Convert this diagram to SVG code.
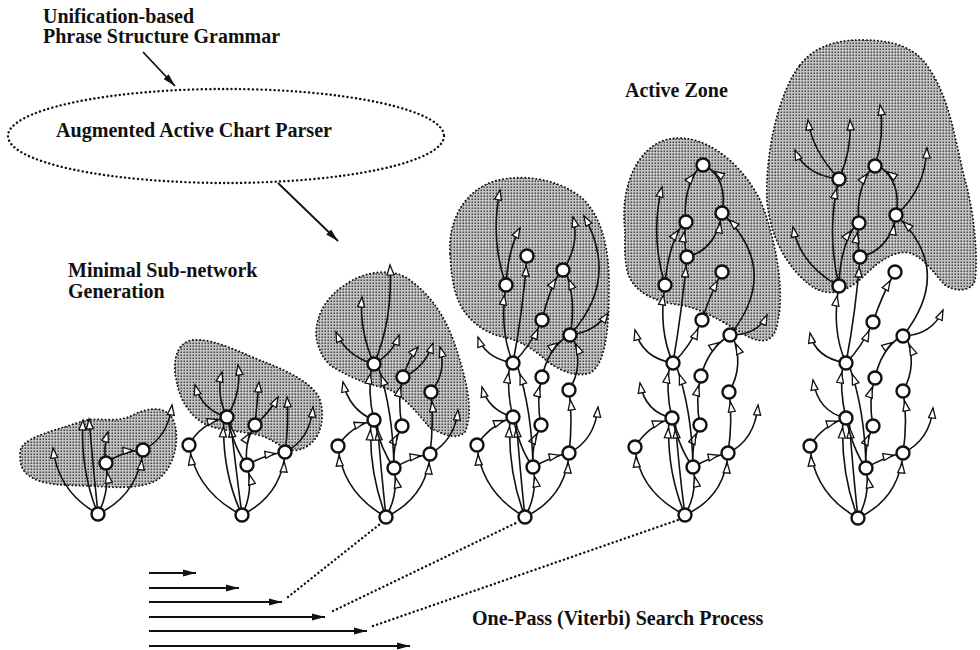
<svg xmlns="http://www.w3.org/2000/svg" width="980" height="650" viewBox="0 0 980 650">
<style>
.t{font-family:"Liberation Serif","Times New Roman",serif;font-weight:bold;font-size:20px;fill:#111}
.e{fill:none;stroke:#111;stroke-width:1.6}
.n{marker-end:url(#an)}
.p{marker-end:url(#at)}
.nd{fill:#fff;stroke:#111;stroke-width:2.4}
.blob{fill:url(#stip);stroke:#111;stroke-width:1.9;stroke-dasharray:0.1 3.6;stroke-linecap:round}
.dot{fill:none;stroke:#111;stroke-width:2.4;stroke-dasharray:0.1 4.2;stroke-linecap:round}
.ar{fill:none;stroke:#111;stroke-width:1.8;marker-end:url(#af)}
</style>
<defs>
<pattern id="stip" width="3" height="3" patternUnits="userSpaceOnUse">
<rect width="3" height="3" fill="#c4c4c4"/>
<rect x="0.5" y="0.5" width="1.5" height="1.5" fill="#444"/>
</pattern>
<marker id="an" viewBox="0 0 24 9" refX="21" refY="4.5" markerWidth="24" markerHeight="9" markerUnits="userSpaceOnUse" orient="auto"><path d="M1,1 L11,4.5 L1,8 Z" fill="#fff" stroke="#111" stroke-width="1.3"/></marker>
<marker id="at" viewBox="0 0 24 9" refX="11" refY="4.5" markerWidth="24" markerHeight="9" markerUnits="userSpaceOnUse" orient="auto"><path d="M1,1 L11,4.5 L1,8 Z" fill="#fff" stroke="#111" stroke-width="1.3"/></marker>
<marker id="af" viewBox="0 0 14 8" refX="13" refY="4" markerWidth="14" markerHeight="8" markerUnits="userSpaceOnUse" orient="auto"><path d="M0,0.5 L13,4 L0,7.5 Z" fill="#111"/></marker>
</defs>

<g id="labels">
<text class="t" x="43" y="23">Unification-based</text>
<text class="t" x="43" y="43" textLength="237" lengthAdjust="spacingAndGlyphs">Phrase Structure Grammar</text>
<text class="t" x="68" y="277">Minimal Sub-network</text>
<text class="t" x="68" y="298">Generation</text>
<text class="t" x="625" y="97">Active Zone</text>
<text class="t" x="472" y="625">One-Pass (Viterbi) Search Process</text>
</g>

<g id="parser">
<ellipse class="dot" cx="226" cy="136" rx="218" ry="47"/>
<text class="t" x="56" y="137" textLength="276" lengthAdjust="spacingAndGlyphs">Augmented Active Chart Parser</text>
</g>

<g id="blobs">
<path class="blob" d="M20,453 C20,438 50,432 83,421 C100,416 115,425 135,414 C150,407 170,405 175,425 C180,445 172,470 157,480 C140,490 110,487 93,486 C65,485 40,486 27,474 C20,468 20,460 20,453 Z"/>
<path class="blob" d="M177,383 C172,365 175,342 193,340 C215,338 245,355 267,363 C290,372 315,385 320,400 C326,420 320,445 298,450 C285,452 275,440 262,436 C240,430 220,432 203,423 C190,415 180,400 177,383 Z"/>
<path class="blob" d="M320,350 C310,330 320,300 345,285 C365,270 395,268 410,280 C430,295 445,315 455,345 C465,375 475,410 465,432 C455,442 440,432 430,428 C415,410 400,392 385,388 C365,384 345,375 330,365 C325,360 322,356 320,350 Z"/>
<path class="blob" d="M450,253 C448,220 465,190 495,181 C525,173 560,180 582,198 C600,215 610,245 609,290 C609,330 605,365 590,373 C575,378 560,370 548,362 C535,350 520,340 503,337 C485,333 465,320 457,297 C452,283 451,268 450,253 Z"/>
<path class="blob" d="M625,230 C620,190 635,150 665,140 C700,130 740,160 760,200 C775,235 785,290 778,320 C775,345 760,345 740,332 C720,320 700,308 680,305 C655,302 632,292 627,270 C624,255 625,245 625,230 Z"/>
<path class="blob" d="M800,65 C815,45 840,40 860,40 C890,40 915,45 930,70 C950,100 955,140 965,180 C975,215 978,260 975,280 C972,292 955,292 945,285 C935,275 925,258 910,253 C895,250 880,260 865,275 C850,290 830,300 810,285 C790,270 770,240 767,200 C765,150 780,90 800,65 Z"/>
</g>

<g id="connectors">
<path class="ar" d="M143,52 L175,86"/>
<path class="ar" d="M278,183 L338,241"/>
<path class="ar" d="M149,573 L196,573"/>
<path class="ar" d="M149,588 L239,588"/>
<path class="ar" d="M149,602 L282,602"/>
<path class="ar" d="M149,617 L325,617"/>
<path class="ar" d="M149,631 L367,631"/>
<path class="ar" d="M149,646 L410,646"/>
<path class="dot" d="M288,597 L380,524"/>
<path class="dot" d="M333,611 L518,522"/>
<path class="dot" d="M373,626 L678,520"/>

<!-- graph 1 -->
<path class="e n" d="M98,514 Q110,492 106,463"/>
<path class="e n" d="M98,514 Q138,495 143,450"/>
<path class="e n" d="M106,463 Q122,451 143,450"/>
<path class="e p" d="M98,514 Q58,492 53,448"/>
<path class="e p" d="M98,514 Q80,470 83,420"/>
<path class="e p" d="M98,514 Q93,465 89,419"/>
<path class="e p" d="M106,463 Q103,448 108,432"/>
<path class="e p" d="M143,450 Q168,438 172,405"/>

<!-- graph 2 -->
<path class="e n" d="M242,515 Q196,492 189,445"/>
<path class="e n" d="M242,515 Q221,470 224,417"/>
<path class="e n" d="M242,515 Q236,470 230,417"/>
<path class="e n" d="M242,515 Q254,492 247,465"/>
<path class="e n" d="M242,515 Q282,495 285,452"/>
<path class="e n" d="M189,445 Q200,424 227,417"/>
<path class="e" d="M227,417 Q234,448 247,465"/>
<path class="e n" d="M247,465 Q264,455 285,452"/>
<path class="e n" d="M247,465 Q244,442 255,425"/>
<path class="e p" d="M227,417 Q202,410 195,385"/>
<path class="e p" d="M227,417 Q216,395 222,372"/>
<path class="e p" d="M227,417 Q242,392 238,365"/>
<path class="e p" d="M255,425 Q257,405 259,382"/>
<path class="e p" d="M255,425 Q270,412 278,397"/>
<path class="e p" d="M285,452 Q289,425 287,397"/>
<path class="e p" d="M285,452 Q310,440 313,407"/>

<!-- graph 3 -->
<path class="e n" d="M386,517 Q342,492 338,446"/>
<path class="e n" d="M386,517 Q368,470 371,420"/>
<path class="e n" d="M386,517 Q381,470 377,420"/>
<path class="e n" d="M386,517 Q399,494 394,468"/>
<path class="e n" d="M386,517 Q427,497 430,454"/>
<path class="e n" d="M338,446 Q350,427 374,420"/>
<path class="e" d="M374,420 Q381,450 394,468"/>
<path class="e n" d="M394,468 Q412,457 430,454"/>
<path class="e n" d="M394,468 Q392,445 402,426"/>
<path class="e n" d="M430,454 Q434,422 431,392"/>
<path class="e n" d="M402,426 Q397,400 403,377"/>
<path class="e n" d="M374,420 Q367,392 372,364"/>
<path class="e n" d="M394,468 Q393,410 378,366"/>
<path class="e p" d="M374,420 Q349,410 343,382"/>
<path class="e p" d="M374,364 Q346,356 336,332"/>
<path class="e p" d="M374,364 Q359,330 362,297"/>
<path class="e p" d="M374,364 Q393,320 390,265"/>
<path class="e p" d="M374,364 Q393,353 399,335"/>
<path class="e p" d="M403,377 Q410,356 418,347"/>
<path class="e p" d="M403,377 Q425,368 433,343"/>
<path class="e p" d="M431,392 Q447,372 440,347"/>
<path class="e p" d="M430,454 Q455,440 458,410"/>

<!-- graph 4 -->
<path class="e n" d="M525,517 Q481,492 477,445"/>
<path class="e n" d="M525,517 Q507,470 510,417"/>
<path class="e n" d="M525,517 Q520,470 516,417"/>
<path class="e n" d="M525,517 Q538,494 533,467"/>
<path class="e n" d="M525,517 Q566,497 569,453"/>
<path class="e n" d="M477,445 Q489,426 513,417"/>
<path class="e" d="M513,417 Q520,450 533,467"/>
<path class="e n" d="M533,467 Q551,457 569,453"/>
<path class="e n" d="M533,467 Q531,445 541,425"/>
<path class="e n" d="M569,453 Q573,420 569,390"/>
<path class="e n" d="M541,425 Q536,400 542,377"/>
<path class="e n" d="M513,417 Q506,390 510,363"/>
<path class="e n" d="M533,467 Q532,410 517,365"/>
<path class="e n" d="M542,377 Q548,350 566,337"/>
<path class="e n" d="M569,390 Q585,365 572,335"/>
<path class="e n" d="M513,363 Q530,347 542,320"/>
<path class="e n" d="M513,363 Q499,330 506,285"/>
<path class="e n" d="M513,363 Q523,310 527,256"/>
<path class="e n" d="M542,320 Q549,290 561,270"/>
<path class="e n" d="M570,335 Q577,300 565,270"/>
<path class="e p" d="M513,417 Q488,410 482,387"/>
<path class="e p" d="M513,363 Q485,358 478,337"/>
<path class="e p" d="M506,285 Q490,240 500,190"/>
<path class="e p" d="M506,285 Q508,250 520,228"/>
<path class="e p" d="M563,270 Q580,245 573,217"/>
<path class="e p" d="M570,335 Q620,280 584,216"/>
<path class="e p" d="M570,335 Q595,332 608,313"/>
<path class="e p" d="M569,453 Q595,440 598,407"/>

<!-- graph 5 -->
<path class="e n" d="M685,515 Q639,492 635,447"/>
<path class="e n" d="M685,515 Q666,470 669,418"/>
<path class="e n" d="M685,515 Q679,470 675,418"/>
<path class="e n" d="M685,515 Q698,492 693,467"/>
<path class="e n" d="M685,515 Q725,497 728,453"/>
<path class="e n" d="M635,447 Q648,426 672,418"/>
<path class="e" d="M672,418 Q680,450 693,467"/>
<path class="e n" d="M693,467 Q711,457 728,453"/>
<path class="e n" d="M693,467 Q691,445 700,425"/>
<path class="e n" d="M728,453 Q733,420 729,392"/>
<path class="e n" d="M700,425 Q695,400 701,376"/>
<path class="e n" d="M672,418 Q665,390 670,363"/>
<path class="e n" d="M693,467 Q692,410 676,365"/>
<path class="e n" d="M701,376 Q708,350 727,337"/>
<path class="e n" d="M729,392 Q745,365 732,335"/>
<path class="e n" d="M673,363 Q690,347 702,320"/>
<path class="e n" d="M673,363 Q658,330 665,285"/>
<path class="e n" d="M673,363 Q682,310 687,257"/>
<path class="e n" d="M702,320 Q710,295 722,272"/>
<path class="e n" d="M730,335 Q782,270 722,213"/>
<path class="e n" d="M687,257 Q683,240 686,222"/>
<path class="e n" d="M665,285 Q668,245 684,222"/>
<path class="e n" d="M687,257 Q716,250 722,213"/>
<path class="e n" d="M686,222 Q682,190 700,166"/>
<path class="e n" d="M722,213 Q728,180 706,166"/>
<path class="e p" d="M672,418 Q645,412 640,383"/>
<path class="e p" d="M673,363 Q642,358 635,330"/>
<path class="e p" d="M665,285 Q650,235 662,187"/>
<path class="e p" d="M728,453 Q755,440 758,405"/>
<path class="e p" d="M730,335 Q758,335 767,315"/>

<!-- graph 6 -->
<path class="e n" d="M858,518 Q814,494 810,446"/>
<path class="e n" d="M858,518 Q840,472 843,418"/>
<path class="e n" d="M858,518 Q853,472 849,418"/>
<path class="e n" d="M858,518 Q871,494 866,468"/>
<path class="e n" d="M858,518 Q899,499 903,453"/>
<path class="e n" d="M810,446 Q822,426 846,418"/>
<path class="e" d="M846,418 Q853,450 866,468"/>
<path class="e n" d="M866,468 Q884,457 903,453"/>
<path class="e n" d="M866,468 Q864,446 873,426"/>
<path class="e n" d="M903,453 Q908,420 903,391"/>
<path class="e n" d="M873,426 Q868,400 875,378"/>
<path class="e n" d="M846,418 Q839,390 843,363"/>
<path class="e n" d="M866,468 Q865,410 849,365"/>
<path class="e n" d="M875,378 Q881,350 900,337"/>
<path class="e n" d="M903,391 Q918,365 906,336"/>
<path class="e n" d="M846,363 Q862,347 873,322"/>
<path class="e n" d="M846,363 Q831,330 839,286"/>
<path class="e n" d="M846,363 Q856,310 860,257"/>
<path class="e n" d="M873,322 Q882,295 895,272"/>
<path class="e n" d="M903,336 Q955,270 896,215"/>
<path class="e n" d="M860,257 Q856,240 859,223"/>
<path class="e n" d="M839,286 Q840,245 857,223"/>
<path class="e n" d="M860,257 Q890,250 896,215"/>
<path class="e n" d="M859,223 Q855,190 873,166"/>
<path class="e n" d="M896,215 Q902,182 879,166"/>
<path class="e n" d="M839,286 Q826,230 839,179"/>
<path class="e p" d="M839,179 Q805,175 795,150"/>
<path class="e p" d="M839,179 Q812,150 808,120"/>
<path class="e p" d="M839,179 Q852,150 850,120"/>
<path class="e p" d="M875,166 Q885,135 880,105"/>
<path class="e p" d="M896,215 Q925,190 927,148"/>
<path class="e p" d="M839,286 Q800,265 793,227"/>
<path class="e p" d="M846,418 Q818,412 813,380"/>
<path class="e p" d="M846,363 Q815,358 810,333"/>
<path class="e p" d="M903,453 Q930,440 933,408"/>
<path class="e p" d="M903,336 Q932,335 943,310"/>
</g>

<g id="g1-nodes">
<circle class="nd" cx="98" cy="514" r="6.5"/>
<circle class="nd" cx="106" cy="463" r="6.5"/>
<circle class="nd" cx="143" cy="450" r="6.5"/>
</g>
<g id="g2-nodes">
<circle class="nd" cx="242" cy="515" r="6.5"/>
<circle class="nd" cx="189" cy="445" r="6.5"/>
<circle class="nd" cx="227" cy="417" r="6.5"/>
<circle class="nd" cx="247" cy="465" r="6.5"/>
<circle class="nd" cx="285" cy="452" r="6.5"/>
<circle class="nd" cx="255" cy="425" r="6.5"/>
</g>
<g id="g3-nodes">
<circle class="nd" cx="386" cy="517" r="6.5"/>
<circle class="nd" cx="338" cy="446" r="6.5"/>
<circle class="nd" cx="374" cy="420" r="6.5"/>
<circle class="nd" cx="394" cy="468" r="6.5"/>
<circle class="nd" cx="430" cy="454" r="6.5"/>
<circle class="nd" cx="402" cy="426" r="6.5"/>
<circle class="nd" cx="431" cy="392" r="6.5"/>
<circle class="nd" cx="403" cy="377" r="6.5"/>
<circle class="nd" cx="374" cy="364" r="6.5"/>
</g>
<g id="g4-nodes">
<circle class="nd" cx="525" cy="517" r="6.5"/>
<circle class="nd" cx="477" cy="445" r="6.5"/>
<circle class="nd" cx="513" cy="417" r="6.5"/>
<circle class="nd" cx="533" cy="467" r="6.5"/>
<circle class="nd" cx="569" cy="453" r="6.5"/>
<circle class="nd" cx="541" cy="425" r="6.5"/>
<circle class="nd" cx="569" cy="390" r="6.5"/>
<circle class="nd" cx="542" cy="377" r="6.5"/>
<circle class="nd" cx="513" cy="363" r="6.5"/>
<circle class="nd" cx="570" cy="335" r="6.5"/>
<circle class="nd" cx="542" cy="320" r="6.5"/>
<circle class="nd" cx="506" cy="285" r="6.5"/>
<circle class="nd" cx="527" cy="256" r="6.5"/>
<circle class="nd" cx="563" cy="270" r="6.5"/>
</g>
<g id="g5-nodes">
<circle class="nd" cx="685" cy="515" r="6.5"/>
<circle class="nd" cx="635" cy="447" r="6.5"/>
<circle class="nd" cx="672" cy="418" r="6.5"/>
<circle class="nd" cx="693" cy="467" r="6.5"/>
<circle class="nd" cx="728" cy="453" r="6.5"/>
<circle class="nd" cx="700" cy="425" r="6.5"/>
<circle class="nd" cx="729" cy="392" r="6.5"/>
<circle class="nd" cx="701" cy="376" r="6.5"/>
<circle class="nd" cx="673" cy="363" r="6.5"/>
<circle class="nd" cx="730" cy="335" r="6.5"/>
<circle class="nd" cx="702" cy="320" r="6.5"/>
<circle class="nd" cx="665" cy="285" r="6.5"/>
<circle class="nd" cx="722" cy="272" r="6.5"/>
<circle class="nd" cx="687" cy="257" r="6.5"/>
<circle class="nd" cx="686" cy="222" r="6.5"/>
<circle class="nd" cx="722" cy="213" r="6.5"/>
<circle class="nd" cx="703" cy="165" r="6.5"/>
</g>
<g id="g6-nodes">
<circle class="nd" cx="858" cy="518" r="6.5"/>
<circle class="nd" cx="810" cy="446" r="6.5"/>
<circle class="nd" cx="846" cy="418" r="6.5"/>
<circle class="nd" cx="866" cy="468" r="6.5"/>
<circle class="nd" cx="903" cy="453" r="6.5"/>
<circle class="nd" cx="873" cy="426" r="6.5"/>
<circle class="nd" cx="903" cy="391" r="6.5"/>
<circle class="nd" cx="875" cy="378" r="6.5"/>
<circle class="nd" cx="846" cy="363" r="6.5"/>
<circle class="nd" cx="903" cy="336" r="6.5"/>
<circle class="nd" cx="873" cy="322" r="6.5"/>
<circle class="nd" cx="839" cy="286" r="6.5"/>
<circle class="nd" cx="895" cy="272" r="6.5"/>
<circle class="nd" cx="860" cy="257" r="6.5"/>
<circle class="nd" cx="859" cy="223" r="6.5"/>
<circle class="nd" cx="896" cy="215" r="6.5"/>
<circle class="nd" cx="875" cy="166" r="6.5"/>
<circle class="nd" cx="839" cy="179" r="6.5"/>
</g>
</svg>
